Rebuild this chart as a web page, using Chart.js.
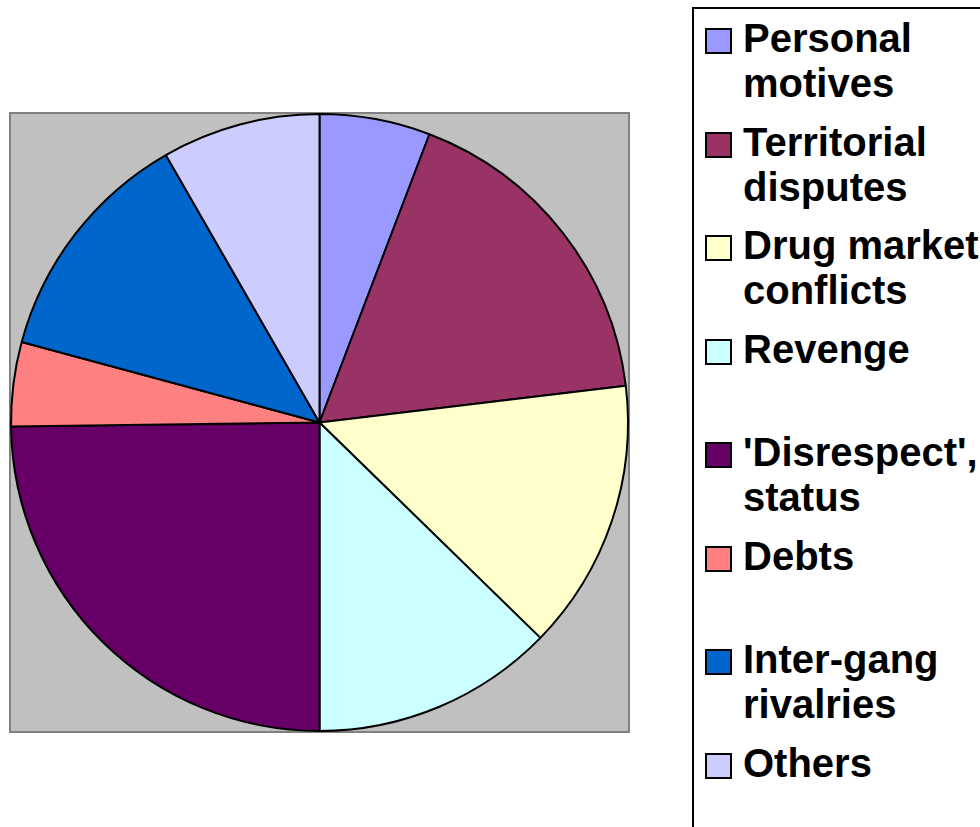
<!DOCTYPE html>
<html>
<head>
<meta charset="utf-8">
<script src="https://cdn.jsdelivr.net/npm/chart.js@4"></script>
<style>
  body { margin: 0; background: #fff; overflow: hidden; }
  #wrap { position: relative; width: 980px; height: 827px; overflow: hidden; }
  #pie { position: absolute; left: 0; top: 0; }
  #legend {
    position: absolute; left: 692px; top: 7px; width: 320px; height: 840px;
    border: 2px solid #000; box-sizing: border-box; background: #fff;
  }
  .item { position: absolute; left: 0; }
  .box {
    position: absolute; left: 11px; width: 23px; height: 22px;
    border: 2px solid #000;
  }
  .txt {
    position: absolute; left: 49px; white-space: nowrap;
    font: bold 40px "Liberation Sans", Arial, sans-serif; line-height: 45px; color: #000;
  }
</style>
</head>
<body>
<div id="wrap">
  <canvas id="pie" width="980" height="827"></canvas>
  <div id="legend"></div>
</div>
<script>
// categories (multi-line as they wrap in the legend)
const categories = [
  ["Personal", "motives"],
  ["Territorial", "disputes"],
  ["Drug market", "conflicts"],
  ["Revenge"],
  ["'Disrespect',", "status"],
  ["Debts"],
  ["Inter-gang", "rivalries"],
  ["Others"]
];
// share of cases, %
const shares = [5.8, 17.3, 14.2, 12.7, 24.8, 4.4, 12.5, 8.3];
const colours = ["#9999FF", "#993366", "#FFFFCC", "#CCFFFF", "#660066", "#FF8080", "#0066CC", "#CCCCFF"];

// grey plot area behind the pie
const plotBack = {
  id: "plotBack",
  beforeDraw(chart) {
    const { ctx, chartArea: a } = chart;
    ctx.save();
    ctx.fillStyle = "#C0C0C0";
    ctx.fillRect(a.left, a.top, a.right - a.left, a.bottom - a.top);
    ctx.strokeStyle = "#808080";
    ctx.lineWidth = 2;
    ctx.strokeRect(a.left, a.top, a.right - a.left, a.bottom - a.top);
    ctx.restore();
  }
};

new Chart(document.getElementById("pie"), {
  type: "pie",
  data: {
    labels: categories,
    datasets: [{
      data: shares,
      backgroundColor: colours,
      borderColor: "#000",
      borderWidth: 2
    }]
  },
  options: {
    responsive: false,
    animation: false,
    layout: { padding: { left: 10, top: 113, right: 351, bottom: 95 } },
    plugins: { legend: { display: false }, tooltip: { enabled: false } }
  },
  plugins: [plotBack]
});

// legend box, one slot per category
const legend = document.getElementById("legend");
categories.forEach((lines, i) => {
  const top = 7.3 + i * 103.5;
  const item = document.createElement("div");
  item.className = "item";
  item.style.top = top + "px";
  const box = document.createElement("div");
  box.className = "box";
  box.style.top = "12px";
  box.style.background = colours[i];
  const txt = document.createElement("div");
  txt.className = "txt";
  txt.style.top = "0px";
  txt.innerHTML = lines.join("<br>");
  item.appendChild(box);
  item.appendChild(txt);
  legend.appendChild(item);
});
</script>
</body>
</html>
